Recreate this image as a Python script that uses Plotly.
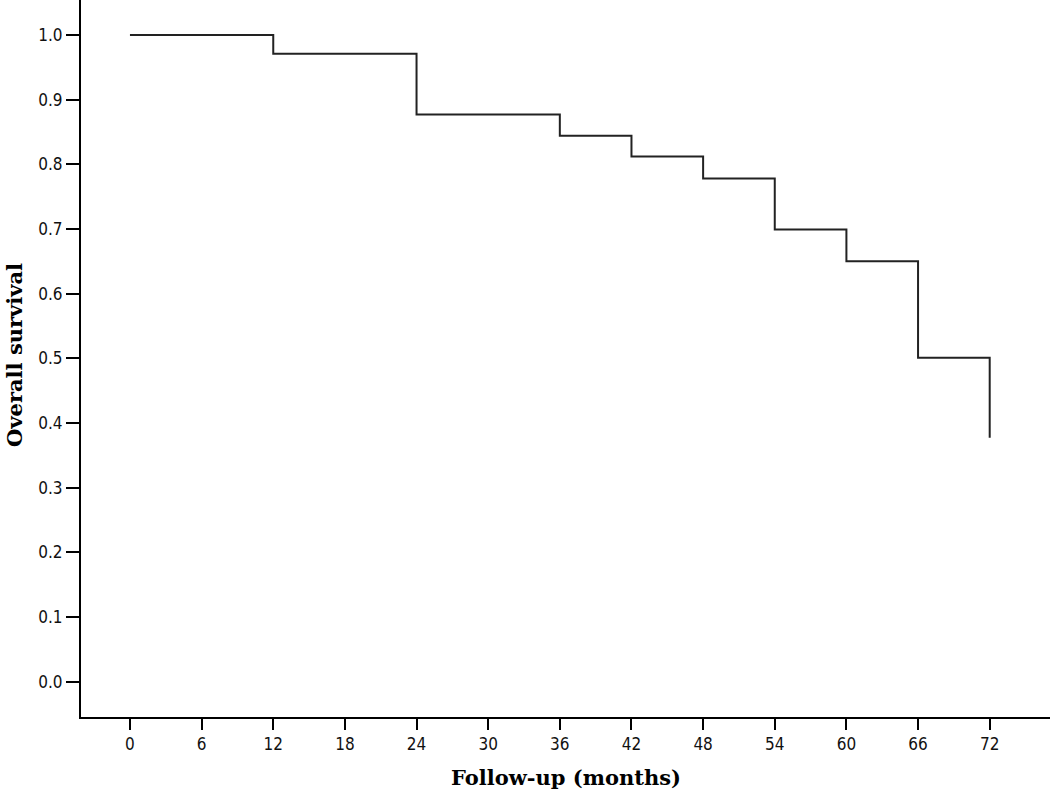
import plotly.graph_objects as go

# Kaplan-Meier estimate
months = [0, 12, 24, 36, 42, 48, 54, 60, 66, 72]
survival = [1.0, 0.971, 0.877, 0.844, 0.812, 0.778, 0.699, 0.650, 0.501, 0.377]
x_ticks = [0, 6, 12, 18, 24, 30, 36, 42, 48, 54, 60, 66, 72]
y_ticks = [0.0, 0.1, 0.2, 0.3, 0.4, 0.5, 0.6, 0.7, 0.8, 0.9, 1.0]

# build step path: horizontal then drop at each event time
xs, ys = [], []
for i, t in enumerate(months):
    if i == 0:
        xs.append(t); ys.append(survival[i])
    else:
        xs.append(t); ys.append(survival[i - 1])
        xs.append(t); ys.append(survival[i])

fig = go.Figure()
fig.add_trace(go.Scatter(x=xs, y=ys, mode='lines', line=dict(color='#222222', width=2),
                         showlegend=False, hoverinfo='skip'))

tick_font = dict(family='DejaVu Sans Condensed', size=17, color='#111111')
title_font = dict(family='DejaVu Serif', size=21, color='black')

fig.update_layout(width=1050, height=793, paper_bgcolor='white', plot_bgcolor='white',
                  margin=dict(l=81, r=0, t=0, b=76, autoexpand=False))
fig.update_xaxes(range=[-4.1, 77.05], tickvals=x_ticks, ticktext=[str(v) for v in x_ticks],
                 showgrid=False, zeroline=False, showline=True, linewidth=2, linecolor='black',
                 ticks='outside', ticklen=11, tickwidth=2, tickcolor='black', tickfont=tick_font,
                 automargin=False)
fig.update_yaxes(range=[-0.0546, 1.054], tickvals=y_ticks, ticktext=[f'{v:.1f}' for v in y_ticks],
                 showgrid=False, zeroline=False, showline=True, linewidth=2, linecolor='black',
                 ticks='outside', ticklen=13, tickwidth=2, tickcolor='black', tickfont=tick_font,
                 automargin=False)

fig.add_annotation(text='<b>Follow-up (months)</b>', xref='paper', yref='paper', x=0.5, y=0,
                   xanchor='center', yanchor='middle', yshift=-60, showarrow=False, font=title_font)
fig.add_annotation(text='<b>Overall survival</b>', xref='paper', yref='paper', x=0, y=0.505,
                   xanchor='center', yanchor='middle', xshift=-66, textangle=-90,
                   showarrow=False, font=title_font)

# drop the default page margin so the figure sits at the window corner
fig.write_html("out.html", config={'displayModeBar': False},
               post_script="document.body.style.margin='0';")
